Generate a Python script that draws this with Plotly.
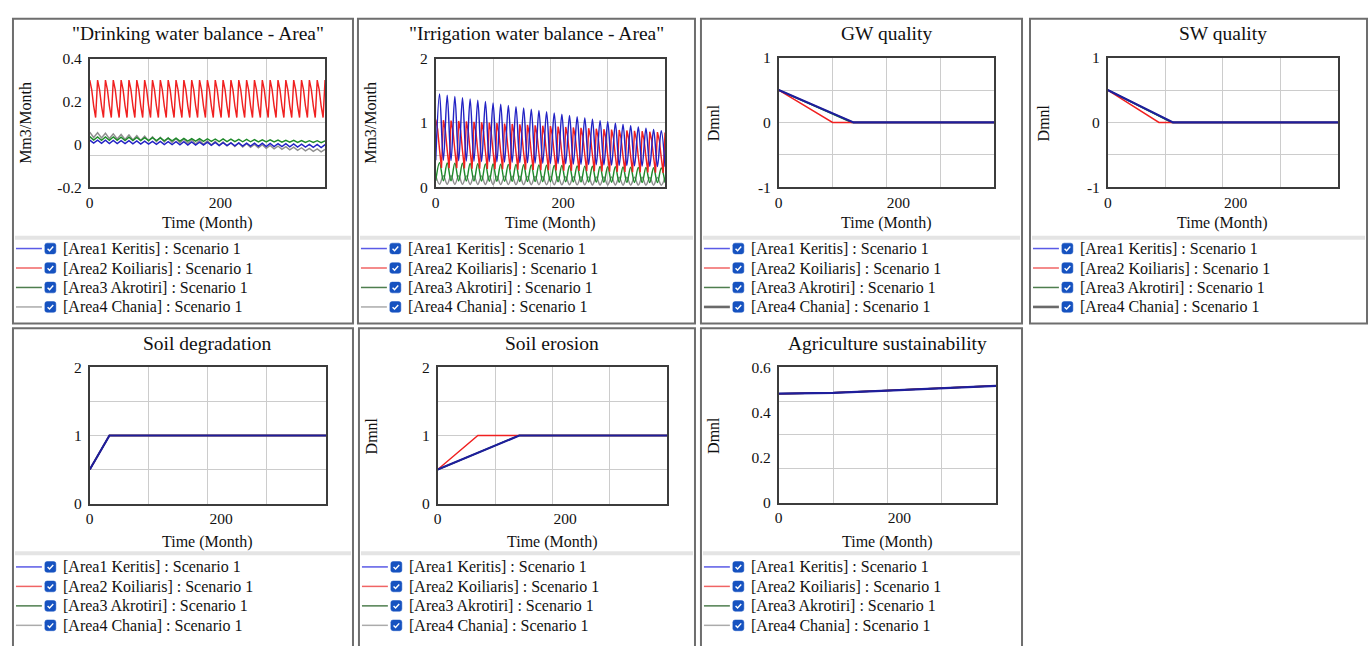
import plotly.graph_objects as go

OX, OY = 0, 0
W, H = 1370, 646
FONT = "Liberation Serif"

# ---------------- data ----------------
area_labels = ["[Area1 Keritis] : Scenario 1", "[Area2 Koiliaris] : Scenario 1",
               "[Area3 Akrotiri] : Scenario 1", "[Area4 Chania] : Scenario 1"]
x_title = "Time (Month)"
x_tick_vals = [0, 200]
x_tick_text = ["0", "200"]

time_q = list(range(0, 361, 3))   # quarterly samples (months)
time_h = list(range(0, 361, 6))   # half-year samples (months)

# Drinking water balance - Area (Mm3/Month)
drink_a1 = [0.020, 0.006, 0.019, 0.005, 0.019, 0.004, 0.018, 0.004, 0.017, 0.003,
            0.017, 0.002, 0.016, 0.001, 0.015, 0.001, 0.014, 0.000, 0.014, -0.001,
            0.013, -0.001, 0.012, -0.002, 0.012, -0.003, 0.011, -0.003, 0.010, -0.004,
            0.010, -0.005, 0.009, -0.006, 0.008, -0.006, 0.007, -0.007, 0.007, -0.008,
            0.006, -0.008, 0.005, -0.009, 0.005, -0.010, 0.004, -0.010, 0.003, -0.011,
            0.003, -0.012, 0.002, -0.013, 0.001, -0.013, 0.000, -0.014, 0.000, -0.015,
            -0.001]
drink_a2 = [0.300, 0.255, 0.180, 0.125, 0.300, 0.255, 0.180, 0.125, 0.300, 0.255, 0.180, 0.125,
            0.300, 0.255, 0.180, 0.125, 0.300, 0.255, 0.180, 0.125, 0.300, 0.255, 0.180, 0.125,
            0.300, 0.255, 0.180, 0.125, 0.300, 0.255, 0.180, 0.125, 0.300, 0.255, 0.180, 0.125,
            0.300, 0.255, 0.180, 0.125, 0.300, 0.255, 0.180, 0.125, 0.300, 0.255, 0.180, 0.125,
            0.300, 0.255, 0.180, 0.125, 0.300, 0.255, 0.180, 0.125, 0.300, 0.255, 0.180, 0.125,
            0.300, 0.255, 0.180, 0.125, 0.300, 0.255, 0.180, 0.125, 0.300, 0.255, 0.180, 0.125,
            0.300, 0.255, 0.180, 0.125, 0.300, 0.255, 0.180, 0.125, 0.300, 0.255, 0.180, 0.125,
            0.300, 0.255, 0.180, 0.125, 0.300, 0.255, 0.180, 0.125, 0.300, 0.255, 0.180, 0.125,
            0.300, 0.255, 0.180, 0.125, 0.300, 0.255, 0.180, 0.125, 0.300, 0.255, 0.180, 0.125,
            0.300, 0.255, 0.180, 0.125, 0.300, 0.255, 0.180, 0.125, 0.300, 0.255, 0.180, 0.125,
            0.300]
drink_a3 = [0.036, 0.020, 0.035, 0.019, 0.035, 0.019, 0.034, 0.019, 0.033, 0.018,
            0.033, 0.018, 0.032, 0.017, 0.031, 0.017, 0.031, 0.017, 0.030, 0.016,
            0.029, 0.016, 0.029, 0.015, 0.028, 0.015, 0.027, 0.015, 0.027, 0.014,
            0.026, 0.014, 0.025, 0.013, 0.025, 0.013, 0.024, 0.013, 0.023, 0.012,
            0.023, 0.012, 0.022, 0.011, 0.021, 0.011, 0.021, 0.011, 0.020, 0.010,
            0.019, 0.010, 0.019, 0.009, 0.018, 0.009, 0.017, 0.009, 0.017, 0.008,
            0.016]
drink_a4 = [0.057, 0.032, 0.054, 0.030, 0.052, 0.027, 0.049, 0.025, 0.046, 0.023,
            0.044, 0.020, 0.041, 0.018, 0.038, 0.016, 0.035, 0.013, 0.033, 0.011,
            0.030, 0.009, 0.027, 0.007, 0.025, 0.004, 0.022, 0.002, 0.019, 0.000,
            0.017, -0.003, 0.014, -0.005, 0.011, -0.007, 0.008, -0.010, 0.006, -0.012,
            0.003, -0.014, 0.000, -0.016, -0.002, -0.019, -0.005, -0.021, -0.008, -0.023,
            -0.011, -0.026, -0.013, -0.028, -0.016, -0.030, -0.019, -0.033, -0.021, -0.035,
            -0.024]

# Irrigation water balance - Area (Mm3/Month)
irrig_a1 = [0.420, 1.450, 0.417, 1.430, 0.413, 1.411, 0.410, 1.391, 0.407, 1.371,
            0.403, 1.352, 0.400, 1.332, 0.397, 1.312, 0.393, 1.292, 0.390, 1.273,
            0.387, 1.253, 0.383, 1.233, 0.380, 1.214, 0.377, 1.194, 0.373, 1.174,
            0.370, 1.155, 0.367, 1.135, 0.363, 1.115, 0.360, 1.095, 0.357, 1.076,
            0.353, 1.056, 0.350, 1.036, 0.347, 1.017, 0.343, 0.997, 0.340, 0.977,
            0.337, 0.958, 0.333, 0.938, 0.330, 0.918, 0.327, 0.898, 0.323, 0.879,
            0.320]
irrig_a2 = [1.050, 0.900, 0.580, 0.300, 1.043, 0.894, 0.576, 0.297, 1.037, 0.888, 0.572, 0.295,
            1.030, 0.882, 0.568, 0.292, 1.023, 0.876, 0.564, 0.289, 1.017, 0.870, 0.560, 0.287,
            1.010, 0.864, 0.556, 0.284, 1.003, 0.858, 0.552, 0.281, 0.997, 0.852, 0.548, 0.279,
            0.990, 0.846, 0.544, 0.276, 0.983, 0.840, 0.540, 0.273, 0.977, 0.834, 0.536, 0.271,
            0.970, 0.828, 0.532, 0.268, 0.963, 0.822, 0.528, 0.265, 0.957, 0.816, 0.524, 0.263,
            0.950, 0.810, 0.520, 0.260, 0.943, 0.804, 0.516, 0.257, 0.937, 0.798, 0.512, 0.255,
            0.930, 0.792, 0.508, 0.252, 0.923, 0.786, 0.504, 0.249, 0.917, 0.780, 0.500, 0.247,
            0.910, 0.774, 0.496, 0.244, 0.903, 0.768, 0.492, 0.241, 0.897, 0.762, 0.488, 0.239,
            0.890, 0.756, 0.484, 0.236, 0.883, 0.750, 0.480, 0.233, 0.877, 0.744, 0.476, 0.231,
            0.870, 0.738, 0.472, 0.228, 0.863, 0.732, 0.468, 0.225, 0.857, 0.726, 0.464, 0.223,
            0.850]
irrig_a3 = [0.100, 0.380, 0.099, 0.377, 0.098, 0.374, 0.097, 0.372, 0.096, 0.369,
            0.095, 0.366, 0.094, 0.363, 0.093, 0.361, 0.092, 0.358, 0.091, 0.355,
            0.090, 0.352, 0.089, 0.350, 0.088, 0.347, 0.087, 0.344, 0.086, 0.341,
            0.085, 0.339, 0.084, 0.336, 0.083, 0.333, 0.082, 0.330, 0.081, 0.328,
            0.080, 0.325, 0.079, 0.322, 0.078, 0.319, 0.077, 0.317, 0.076, 0.314,
            0.075, 0.311, 0.074, 0.308, 0.073, 0.306, 0.072, 0.303, 0.071, 0.300,
            0.070]
irrig_a4 = [0.180, 0.045, 0.179, 0.045, 0.178, 0.044, 0.177, 0.044, 0.176, 0.043,
            0.175, 0.043, 0.174, 0.042, 0.173, 0.042, 0.172, 0.041, 0.171, 0.041,
            0.170, 0.040, 0.169, 0.040, 0.168, 0.039, 0.167, 0.039, 0.166, 0.038,
            0.165, 0.038, 0.164, 0.037, 0.163, 0.037, 0.162, 0.036, 0.161, 0.036,
            0.160, 0.035, 0.159, 0.035, 0.158, 0.034, 0.157, 0.034, 0.156, 0.033,
            0.155, 0.033, 0.154, 0.032, 0.153, 0.032, 0.152, 0.031, 0.151, 0.031,
            0.150]

# GW quality (Dmnl): breakpoints
gw_t_a1, gw_a1 = [0, 125, 360], [0.5, 0.0, 0.0]
gw_t_a2, gw_a2 = [0, 90, 360], [0.5, 0.0, 0.0]
gw_t_a3, gw_a3 = [0, 122, 360], [0.5, 0.0, 0.0]
gw_t_a4, gw_a4 = [0, 125, 360], [0.5, 0.0, 0.0]

# SW quality (Dmnl)
sw_t_a1, sw_a1 = [0, 102, 360], [0.5, 0.0, 0.0]
sw_t_a2, sw_a2 = [0, 80, 360], [0.5, 0.0, 0.0]
sw_t_a3, sw_a3 = [0, 100, 360], [0.5, 0.0, 0.0]
sw_t_a4, sw_a4 = [0, 102, 360], [0.5, 0.0, 0.0]

# Soil degradation
deg_t = [0, 30, 120, 240, 360]
deg_a1 = [0.5, 1.0, 1.0, 1.0, 1.0]
deg_a2 = [0.5, 1.0, 1.0, 1.0, 1.0]
deg_a3 = [0.5, 1.0, 1.0, 1.0, 1.0]
deg_a4 = [0.5, 1.0, 1.0, 1.0, 1.0]

# Soil erosion (Dmnl)
ero_t_a1, ero_a1 = [0, 128, 360], [0.5, 1.0, 1.0]
ero_t_a2, ero_a2 = [0, 63, 360], [0.5, 1.0, 1.0]
ero_t_a3, ero_a3 = [0, 128, 360], [0.5, 1.0, 1.0]
ero_t_a4, ero_a4 = [0, 128, 360], [0.5, 1.0, 1.0]

# Agriculture sustainability (Dmnl)
agri_t = [0, 90, 180, 270, 360]
agri_a1 = [0.483, 0.487, 0.497, 0.507, 0.518]
agri_a2 = [0.483, 0.487, 0.497, 0.507, 0.518]
agri_a3 = [0.483, 0.487, 0.497, 0.507, 0.518]
agri_a4 = [0.483, 0.487, 0.497, 0.507, 0.518]

# ---------------- styling ----------------
data_colors = ["#2222c4", "#f02020", "#1e8a2a", "#8e8e8e"]
flat_blue = "#1e1e9c"
legend_colors = ["#5a5ae6", "#f06464", "#4e7e4e", "#ababab"]

def px(x):
    return (x - OX) / W

def py(y):
    return 1 - (y - OY) / H

def P(x, y):
    return f"{px(x):.6f},{py(y):.6f}"

panels = [
    dict(title='"Drinking water balance - Area"', ytitle="Mm3/Month", talign="right",
         box=(9, 10, 350, 323), plot=(86, 51, 322, 183), row=1,
         yrange=[-0.2, 0.4], ygrid=[-0.05, 0.1, 0.25],
         yticks=[-0.2, 0, 0.2, 0.4], ylabels=["-0.2", "0", "0.2", "0.4"],
         series=[(time_h, drink_a1, "linear"), (time_q, drink_a2, "linear"),
                 (time_h, drink_a3, "linear"), (time_h, drink_a4, "linear")],
         flat=False, a4thick=False),
    dict(title='"Irrigation water balance - Area"', ytitle="Mm3/Month", talign="right",
         box=(355, 10, 693, 323), plot=(433, 51, 663, 183), row=1,
         yrange=[0, 2], ygrid=[0.5, 1, 1.5],
         yticks=[0, 1, 2], ylabels=["0", "1", "2"],
         series=[(time_h, irrig_a1, "spline"), (time_q, irrig_a2, "linear"),
                 (time_h, irrig_a3, "spline"), (time_h, irrig_a4, "spline")],
         flat=False, a4thick=False),
    dict(title="GW quality", ytitle="Dmnl", talign="center",
         box=(699, 10, 1021, 323), plot=(777, 50, 993, 183), row=1,
         yrange=[-1, 1], ygrid=[-0.5, 0, 0.5],
         yticks=[-1, 0, 1], ylabels=["-1", "0", "1"],
         series=[(gw_t_a1, gw_a1, "linear"), (gw_t_a2, gw_a2, "linear"),
                 (gw_t_a3, gw_a3, "linear"), (gw_t_a4, gw_a4, "linear")],
         flat=True, a4thick=True),
    dict(title="SW quality", ytitle="Dmnl", talign="center",
         box=(1029, 10, 1367, 323), plot=(1107, 50, 1338, 183), row=1,
         yrange=[-1, 1], ygrid=[-0.5, 0, 0.5],
         yticks=[-1, 0, 1], ylabels=["-1", "0", "1"],
         series=[(sw_t_a1, sw_a1, "linear"), (sw_t_a2, sw_a2, "linear"),
                 (sw_t_a3, sw_a3, "linear"), (sw_t_a4, sw_a4, "linear")],
         flat=True, a4thick=True),
    dict(title="Soil degradation", ytitle="", talign="center",
         box=(9, 328, 350, 660), plot=(86, 368, 323, 508), row=2,
         yrange=[0, 2], ygrid=[0.5, 1, 1.5],
         yticks=[0, 1, 2], ylabels=["0", "1", "2"],
         series=[(deg_t, deg_a1, "linear"), (deg_t, deg_a2, "linear"),
                 (deg_t, deg_a3, "linear"), (deg_t, deg_a4, "linear")],
         flat=True, a4thick=False),
    dict(title="Soil erosion", ytitle="Dmnl", talign="center",
         box=(356, 328, 693, 660), plot=(435, 368, 665, 508), row=2,
         yrange=[0, 2], ygrid=[0.5, 1, 1.5],
         yticks=[0, 1, 2], ylabels=["0", "1", "2"],
         series=[(ero_t_a1, ero_a1, "linear"), (ero_t_a2, ero_a2, "linear"),
                 (ero_t_a3, ero_a3, "linear"), (ero_t_a4, ero_a4, "linear")],
         flat=True, a4thick=False),
    dict(title="Agriculture sustainability", ytitle="Dmnl", talign="center",
         box=(699, 328, 1021, 660), plot=(777, 368, 995, 507), row=2,
         yrange=[0, 0.6], ygrid=[0.15, 0.3, 0.45],
         yticks=[0, 0.2, 0.4, 0.6], ylabels=["0", "0.2", "0.4", "0.6"],
         series=[(agri_t, agri_a1, "linear"), (agri_t, agri_a2, "linear"),
                 (agri_t, agri_a3, "linear"), (agri_t, agri_a4, "linear")],
         flat=True, a4thick=False),
]

row_geom = {
    1: dict(title_y=25, xtitle_y=220, sep_y=235, leg_y=246),
    2: dict(title_y=344, xtitle_y=547, sep_y=559, leg_y=573),
}

fig = go.Figure()
shapes = []
annotations = []
layout_axes = {}

tick_font = dict(family=FONT, size=15.5, color="#111111")

for i, p in enumerate(panels, start=1):
    xa = "x" if i == 1 else f"x{i}"
    ya = "y" if i == 1 else f"y{i}"
    xkey = "xaxis" if i == 1 else f"xaxis{i}"
    ykey = "yaxis" if i == 1 else f"yaxis{i}"
    l, t, r, b = p["plot"]
    bl, bt, br, bb = p["box"]
    g = row_geom[p["row"]]

    layout_axes[xkey] = dict(
        domain=[px(l), px(r)], range=[0, 360], anchor=ya,
        tickmode="array", tickvals=x_tick_vals, ticktext=x_tick_text,
        showgrid=False, zeroline=False, showline=True, mirror=True,
        linecolor="#3c3c3c", linewidth=1.6, ticks="", tickfont=tick_font,
        minor=dict(tickmode="array", tickvals=[90, 180, 270], showgrid=True,
                   gridcolor="#cccccc", gridwidth=1, ticks=""),
        fixedrange=True)
    layout_axes[ykey] = dict(
        domain=[py(b), py(t)], range=p["yrange"], anchor=xa,
        tickmode="array", tickvals=p["yticks"], ticktext=p["ylabels"],
        showgrid=False, zeroline=False, showline=True, mirror=True,
        linecolor="#3c3c3c", linewidth=1.6, ticks="", tickfont=tick_font,
        ticklabelstandoff=3,
        minor=dict(tickmode="array", tickvals=p["ygrid"], showgrid=True,
                   gridcolor="#cccccc", gridwidth=1, ticks=""),
        fixedrange=True)

    # draw order: Area4, Area3, Area2, Area1 (Area1 on top)
    for k in [3, 2, 1, 0]:
        xs, ys, shp = p["series"][k]
        col = data_colors[k]
        w = 1.45
        if p["flat"]:
            w = 2.2 if k == 0 else 1.4
            if k == 0:
                col = flat_blue
        fig.add_trace(go.Scatter(
            x=xs, y=ys, mode="lines", xaxis=xa, yaxis=ya,
            line=dict(color=col, width=w, shape=shp),
            name=area_labels[k], showlegend=False, hoverinfo="skip"))

    # panel frame
    shapes.append(dict(type="rect", xref="paper", yref="paper",
                       x0=px(bl), x1=px(br), y0=py(bb), y1=py(bt),
                       line=dict(color="#6e6e6e", width=2),
                       fillcolor="rgba(0,0,0,0)"))
    # legend separator band
    shapes.append(dict(type="rect", xref="paper", yref="paper",
                       x0=px(bl + 2), x1=px(br - 2),
                       y0=py(g["sep_y"] + 2), y1=py(g["sep_y"] - 2),
                       line=dict(width=0), fillcolor="#e4e4e4"))

    # title
    if p["talign"] == "right":
        tx, tanchor = px(r + 1), "right"
    else:
        tx, tanchor = px((l + r) / 2), "center"
    annotations.append(dict(text=p["title"], x=tx, y=py(g["title_y"]),
                            xref="paper", yref="paper", showarrow=False,
                            xanchor=tanchor, yanchor="middle",
                            font=dict(family=FONT, size=19.5, color="#111111")))
    # x title
    annotations.append(dict(text=x_title, x=px((l + r) / 2), y=py(g["xtitle_y"]),
                            xref="paper", yref="paper", showarrow=False,
                            xanchor="center", yanchor="middle",
                            font=dict(family=FONT, size=16, color="#111111")))
    # y title
    if p["ytitle"]:
        annotations.append(dict(text=p["ytitle"], x=px(bl + 13), y=py((t + b) / 2),
                                xref="paper", yref="paper", showarrow=False,
                                xanchor="center", yanchor="middle", textangle=-90,
                                font=dict(family=FONT, size=16, color="#111111")))

    # legend rows
    for k in range(4):
        yy = g["leg_y"] + 20 * k
        lc = legend_colors[k]
        lw = 1.5
        if k == 3 and p["a4thick"]:
            lc, lw = "#6a6a6a", 2.6
        shapes.append(dict(type="line", xref="paper", yref="paper",
                           x0=px(bl + 3), x1=px(bl + 29), y0=py(yy), y1=py(yy),
                           line=dict(color=lc, width=lw)))
        x0, x1, y0, y1, rr = bl + 32, bl + 43, yy - 5.5, yy + 5.5, 2.2
        path = (f"M{P(x0 + rr, y0)} L{P(x1 - rr, y0)} Q{P(x1, y0)} {P(x1, y0 + rr)} "
                f"L{P(x1, y1 - rr)} Q{P(x1, y1)} {P(x1 - rr, y1)} L{P(x0 + rr, y1)} "
                f"Q{P(x0, y1)} {P(x0, y1 - rr)} L{P(x0, y0 + rr)} Q{P(x0, y0)} {P(x0 + rr, y0)} Z")
        shapes.append(dict(type="path", xref="paper", yref="paper", path=path,
                           fillcolor="#1652c0", line=dict(color="#1652c0", width=0.5)))
        cx, cy = (x0 + x1) / 2, yy
        chk = f"M{P(cx - 2.8, cy + 0.2)} L{P(cx - 0.8, cy + 2.2)} L{P(cx + 2.9, cy - 2.0)}"
        shapes.append(dict(type="path", xref="paper", yref="paper", path=chk,
                           line=dict(color="white", width=1.4)))
        annotations.append(dict(text=area_labels[k], x=px(bl + 48), y=py(yy),
                                xref="paper", yref="paper", showarrow=False,
                                xanchor="left", yanchor="middle",
                                font=dict(family=FONT, size=16, color="#111111")))

fig.update_layout(
    width=W, height=H, margin=dict(l=0, r=0, t=0, b=0),
    paper_bgcolor="white", plot_bgcolor="white",
    showlegend=False, shapes=shapes, annotations=annotations,
    font=dict(family=FONT, size=15, color="#111111"),
    **layout_axes)

fig.write_html("out.html", config={"displayModeBar": False})
